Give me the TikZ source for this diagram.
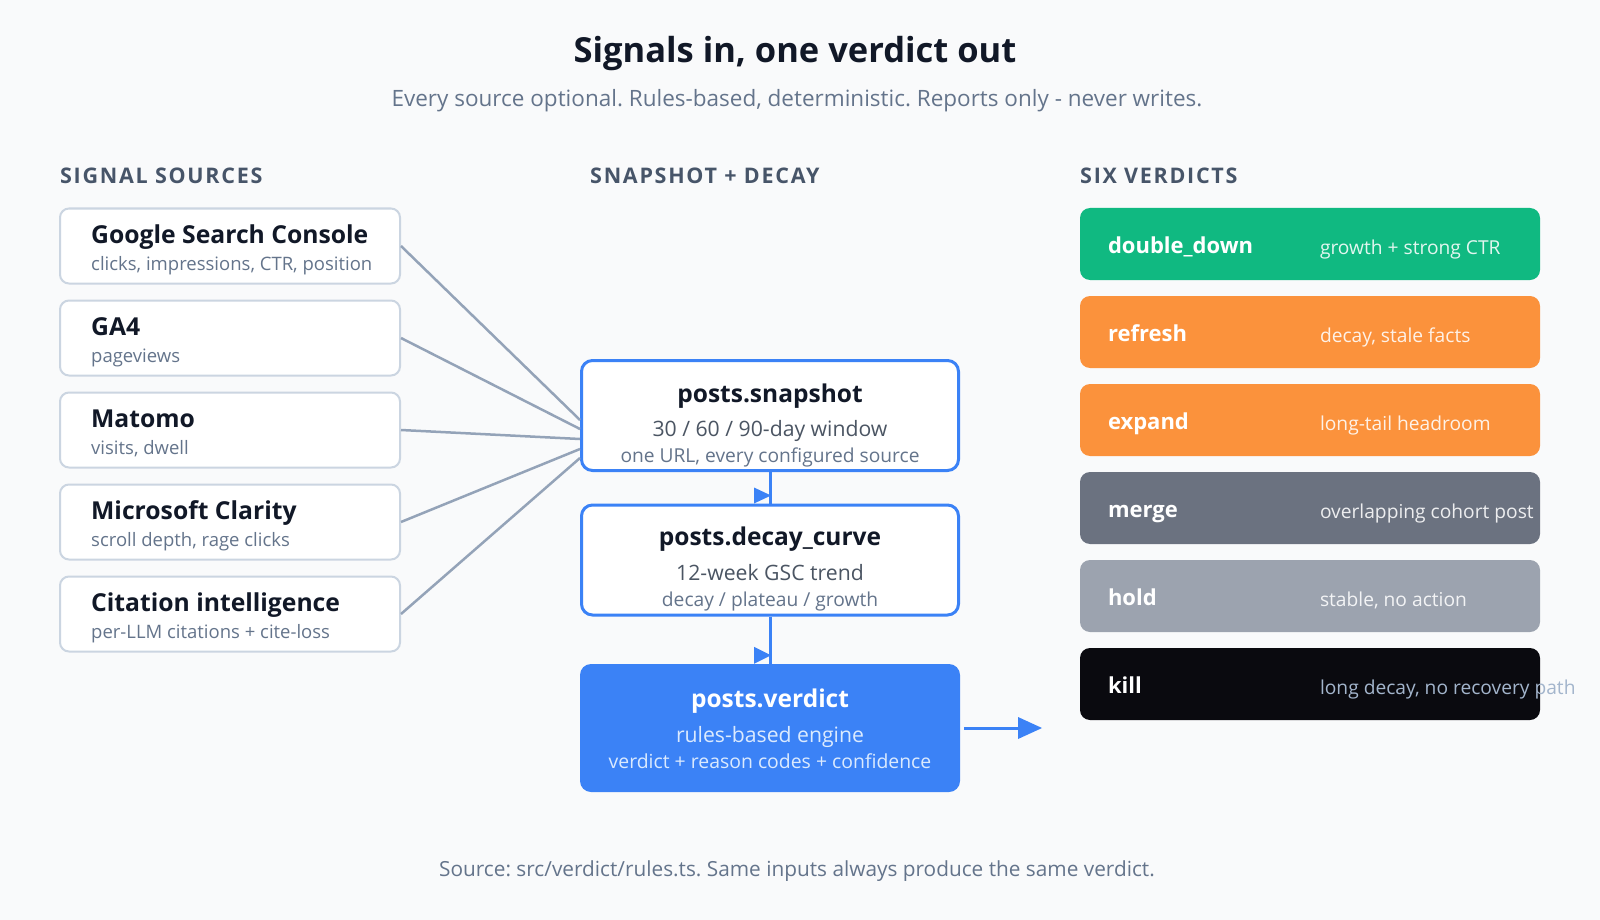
\documentclass[tikz,border=0pt]{standalone}
\usepackage{fontspec}
\setmainfont{Open Sans}
\usetikzlibrary{calc}
\definecolor{bg}{HTML}{F9FAFB}
\definecolor{ink}{HTML}{111827}
\definecolor{muted}{HTML}{64748B}
\definecolor{mid}{HTML}{4B5563}
\definecolor{hdr}{HTML}{475569}
\definecolor{srcborder}{HTML}{CBD5E1}
\definecolor{wire}{HTML}{94A3B8}
\definecolor{blue}{HTML}{3B82F6}
\definecolor{vgreen}{HTML}{10B981}
\definecolor{vorange}{HTML}{FB923C}
\definecolor{vmerge}{HTML}{6B7280}
\definecolor{vhold}{HTML}{9CA3AF}
\definecolor{vkill}{HTML}{0A0A0F}
\definecolor{killdesc}{HTML}{A3B5CC}
\definecolor{verdsub}{HTML}{DBEAFE}
\newcommand{\fs}[1]{\fontsize{#1}{#1}\selectfont}
\frenchspacing
\begin{document}
\begin{tikzpicture}[x=1pt,y=-1pt,
  srcbox/.style={draw=srcborder,line width=2pt,fill=white,rounded corners=9pt,minimum width=340pt,minimum height=75pt,inner sep=0pt},
  midbox/.style={draw=blue,line width=3pt,fill=white,rounded corners=11pt,minimum width=377pt,minimum height=110pt,inner sep=0pt},
  verdbox/.style={fill=blue,rounded corners=11pt,minimum width=380pt,minimum height=128pt,inner sep=0pt},
  vbox/.style={rounded corners=10pt,minimum width=460pt,minimum height=72pt,inner sep=0pt},
  srctitle/.style={anchor=base west,inner sep=0pt,text=ink,font=\fs{24.7}\bfseries},
  srcsub/.style={anchor=base west,inner sep=0pt,text=muted,font=\fs{18.5}},
  midtitle/.style={anchor=base,inner sep=0pt,text=ink,font=\fs{24.5}\bfseries},
  midsub/.style={anchor=base,inner sep=0pt,text=mid,font=\fs{21.2}},
  midsubb/.style={anchor=base,inner sep=0pt,text=muted,font=\fs{19.2}},
  vlabel/.style={anchor=base west,inner sep=0pt,text=white,font=\fs{22}\bfseries},
  vdesc/.style={anchor=base west,inner sep=0pt,text=white,text opacity=0.88,font=\fs{19.2}},
  header/.style={anchor=base west,inner sep=0pt,text=hdr,font=\fs{21.5}\bfseries\addfontfeatures{LetterSpace=8}},
  wireline/.style={draw=wire,line width=2.5pt},
  flow/.style={draw=blue,line width=3pt}
]
\fill[bg] (0,0) rectangle (1600,920);
\useasboundingbox (0,0) rectangle (1600,920);

% titles
\node[anchor=base,inner sep=0pt,text=ink,font=\fs{34.5}\bfseries] (title) at (795,63) {Signals in, one verdict out};
\node[anchor=base,inner sep=0pt,text=muted,font=\fs{22.5}] (subtitle) at (797,107) {Every source optional. Rules-based, deterministic. Reports only - never writes.};
\node[anchor=base,inner sep=0pt,text=muted,font=\fs{20.8}] (footer) at (797,876) {Source: src/verdict/rules.ts. Same inputs always produce the same verdict.};

% headers
\node[header] (h1) at (60,184) {SIGNAL SOURCES};
\node[header] (h2) at (590,184) {SNAPSHOT + DECAY};
\node[header] (h3) at (1080,184) {SIX VERDICTS};

% source boxes
\node[srcbox] (gsc) at (230,246) {};
\node[srcbox] (ga4) at (230,338) {};
\node[srcbox] (mat) at (230,430) {};
\node[srcbox] (cla) at (230,522) {};
\node[srcbox] (cit) at (230,614) {};
\foreach \n/\t/\s in {gsc/Google Search Console/{clicks, impressions, CTR, position},
                      ga4/GA4/pageviews,
                      mat/Matomo/{visits, dwell},
                      cla/Microsoft Clarity/{scroll depth, rage clicks},
                      cit/Citation intelligence/{per-LLM citations + cite-loss}}{
  \node[srctitle] (\n-t) at ($(\n.north west)+(32,36)$) {\t};
  \node[srcsub] (\n-s) at ($(\n.north west)+(32,63)$) {\s};
}

% middle boxes
\node[midbox] (snap) at (770,415.5) {};
\node[midtitle] (snap-t) at (770,402) {posts.snapshot};
\node[midsub] (snap-s) at (770,436) {30 / 60 / 90-day window};
\node[midsubb] (snap-u) at (770,462) {one URL, every configured source};

\node[midbox] (decay) at (770,560) {};
\node[midtitle] (decay-t) at (770,545) {posts.decay\_curve};
\node[midsub] (decay-s) at (770,580) {12-week GSC trend};
\node[midsubb] (decay-u) at (770,606) {decay / plateau / growth};

\node[verdbox] (verd) at (770,728) {};
\node[anchor=base,inner sep=0pt,text=white,font=\fs{24.5}\bfseries] (verd-t) at (770,707) {posts.verdict};
\node[anchor=base,inner sep=0pt,text=verdsub,font=\fs{21.2}] (verd-s) at (770,742) {rules-based engine};
\node[anchor=base,inner sep=0pt,text=verdsub,font=\fs{19.4}] (verd-u) at (770,768) {verdict + reason codes + confidence};

% wires
\draw[wireline] (gsc.east) -- ($(snap.south west)+(0,-52)$);
\draw[wireline] (ga4.east) -- ($(snap.south west)+(0,-43)$);
\draw[wireline] (mat.east) -- ($(snap.south west)+(0,-33)$);
\draw[wireline] (cla.east) -- ($(snap.south west)+(0,-23)$);
\draw[wireline] (cit.east) -- ($(snap.south west)+(0,-14)$);

% flow arrows
\draw[flow] (snap.south) -- (decay.north);
\fill[blue] ($(decay.north)+(-16,-16)$) -- ($(decay.north)+(1,-8)$) -- ($(decay.north)+(-16,0)$) -- cycle;
\draw[flow] (decay.south) -- (verd.north);
\fill[blue] ($(verd.north)+(-16,-17)$) -- ($(verd.north)+(1,-8.5)$) -- ($(verd.north)+(-16,0)$) -- cycle;
\coordinate (out) at (1042,728);
\draw[flow] ($(verd.east)+(4,0)$) -- ($(out)+(-22,0)$);
\fill[blue] (out) -- ++(-24,-11) -- ++(0,22) -- cycle;

% verdict boxes
\foreach \n/\c/\l/\d/\y in {dd/vgreen/double\_down/{growth + strong CTR}/244,
                            rf/vorange/refresh/{decay, stale facts}/332,
                            ex/vorange/expand/{long-tail headroom}/420,
                            mg/vmerge/merge/{overlapping cohort post}/508,
                            hd/vhold/hold/{stable, no action}/596}{
  \node[vbox,fill=\c] (\n) at (1310,\y) {};
  \node[vlabel] (\n-l) at ($(\n.west)+(28,9)$) {\l};
  \node[vdesc] (\n-d) at ($(\n.west)+(240,10)$) {\d};
}
\node[vbox,fill=vkill] (kl) at (1310,684) {};
\node[vlabel] (kl-l) at ($(kl.west)+(28,9)$) {kill};
\node[vdesc,text=killdesc,text opacity=1] (kl-d) at ($(kl.west)+(240,10)$) {long decay, no recovery path};
\end{tikzpicture}
\end{document}
